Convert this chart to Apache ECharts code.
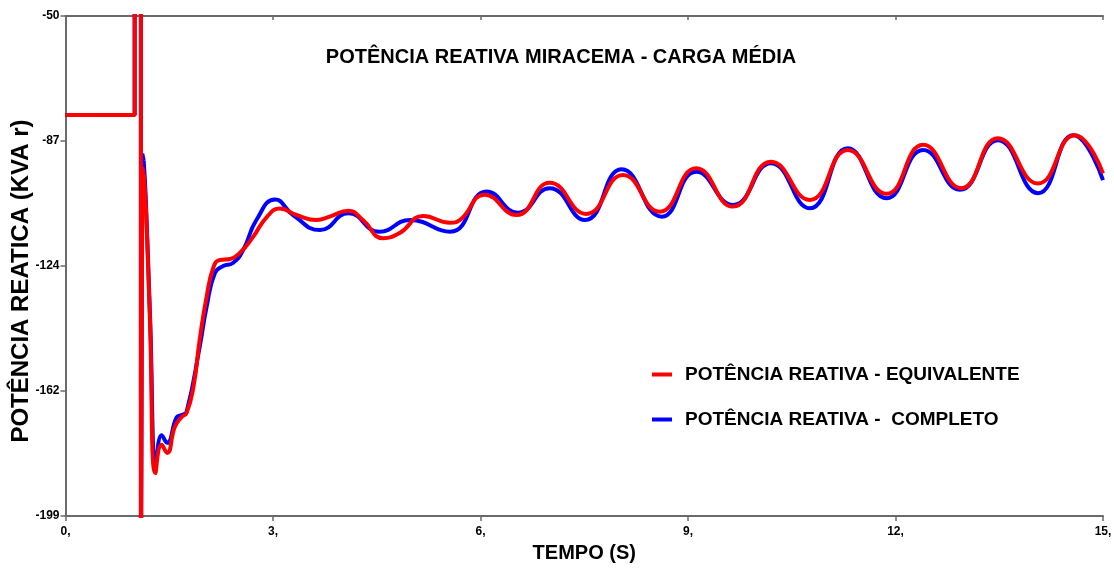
<!DOCTYPE html>
<html>
<head>
<meta charset="utf-8">
<script src="https://cdn.jsdelivr.net/npm/echarts@6/dist/echarts.min.js"></script>
<style>
html,body{margin:0;padding:0;background:#fff;}
#chart{width:1114px;height:570px;}
</style>
</head>
<body>
<div id="chart"></div>
<script>
const titleText = 'POTÊNCIA REATIVA MIRACEMA - CARGA MÉDIA';
const xName = 'TEMPO (S)';
const yName = 'POTÊNCIA REATICA (KVA r)';
const nameEquiv = 'POTÊNCIA REATIVA - EQUIVALENTE';
const nameComp = 'POTÊNCIA REATIVA -  COMPLETO';

// pre-fault / switching transient (straight segments)
const equivStep = [[0,-79.5],[1.0,-79.5],[1.0,-30],[1.09,-30],[1.09,-230],[1.11,-95],[1.13,-97]];
const compStep  = [[0,-79.5],[1.0,-79.5],[1.0,-30],[1.09,-30],[1.09,-230],[1.11,-91],[1.13,-93]];

// post-fault oscillation (smooth)
const equivWave = [[1.13,-97],[1.16,-106],[1.22,-140],[1.30,-186.2],[1.39,-177.8],[1.47,-180.2],[1.58,-172.5],[1.68,-169.5],[1.75,-168.3],[1.85,-160.5],[1.94,-146.5],[2.04,-133.7],[2.14,-124.8],[2.23,-122.7],[2.38,-122.4],[2.52,-120.6],[2.71,-115.9],[2.91,-109.9],[3.10,-107.4],[3.34,-109.3],[3.63,-110.8],[3.82,-109.8],[4.09,-108.0],[4.30,-110.8],[4.59,-116.2],[4.83,-114.7],[5.17,-109.6],[5.56,-111.6],[5.70,-110.8],[6.06,-103.3],[6.52,-109.3],[7.00,-99.7],[7.53,-109.0],[8.06,-97.4],[8.59,-108.3],[9.12,-95.4],[9.65,-106.8],[10.20,-93.4],[10.76,-104.8],[11.31,-89.9],[11.87,-103.0],[12.40,-88.4],[12.95,-101.3],[13.48,-86.4],[14.06,-99.9],[14.59,-85.5],[15.0,-96.9]];
const compWave = [[1.13,-93],[1.16,-104],[1.22,-138],[1.31,-182.9],[1.39,-174.9],[1.47,-177.2],[1.61,-169.5],[1.68,-168.9],[1.75,-168.0],[1.94,-148.6],[2.04,-136.7],[2.16,-126.6],[2.28,-124.5],[2.42,-123.6],[2.57,-119.7],[2.76,-110.8],[3.03,-104.7],[3.29,-109.3],[3.68,-113.8],[4.09,-108.8],[4.54,-114.3],[4.98,-110.8],[5.56,-114.3],[6.09,-102.3],[6.54,-108.6],[7.00,-101.3],[7.51,-110.8],[8.04,-95.7],[8.62,-109.8],[9.12,-96.4],[9.65,-106.3],[10.20,-93.9],[10.76,-107.3],[11.31,-89.4],[11.87,-104.3],[12.40,-89.9],[12.93,-101.8],[13.48,-87.0],[14.06,-102.8],[14.57,-85.5],[15.0,-98.9]];

const xMin = 0, xMax = 15, xStep = 3;
const yMin = -199, yMax = -50;

const font = "'Liberation Sans', Arial, sans-serif";
const axisCol = '#6a6a6a';
const chart = echarts.init(document.getElementById('chart'));
const lineSeries = (name, data, color, smooth) => ({
  name: name, type: 'line', data: data, smooth: smooth ? 0.5 : false,
  showSymbol: false, symbol: 'none', clip: true,
  lineStyle: {color: color, width: 4}, itemStyle: {color: color}
});
chart.setOption({
  animation: false,
  backgroundColor: '#fff',
  title: {
    text: titleText, left: 561, top: 47, textAlign: 'center', padding: 0,
    textStyle: {fontFamily: font, fontWeight: 'bold', fontSize: 20, color: '#000'}
  },
  legend: {
    data: [nameEquiv, nameComp], orient: 'vertical', left: 647, top: 360,
    icon: 'rect', itemWidth: 20, itemHeight: 4, itemGap: 26,
    textStyle: {fontFamily: font, fontWeight: 'bold', fontSize: 19, color: '#000', padding: [0,0,0,8]}
  },
  grid: {left: 65.5, right: 11, top: 16, bottom: 54, containLabel: false, outerBoundsMode: 'none'},
  xAxis: [{
    type: 'value', min: xMin, max: xMax, interval: xStep, position: 'bottom',
    name: xName, nameLocation: 'middle', nameGap: 27, nameMoveOverlap: false,
    nameTextStyle: {fontFamily: font, fontWeight: 'bold', fontSize: 20, color: '#000'},
    axisLine: {show: true, lineStyle: {color: axisCol, width: 2}},
    axisTick: {show: true, length: 5, lineStyle: {color: axisCol, width: 1.5}},
    axisLabel: {fontFamily: font, fontWeight: 'bold', fontSize: 12, color: '#000', margin: 10, formatter: v => v + ','},
    splitLine: {show: false}
  }, {
    type: 'value', min: xMin, max: xMax, interval: xStep, position: 'top',
    axisLine: {show: true, onZero: false, lineStyle: {color: axisCol, width: 2}},
    axisTick: {show: true, inside: true, length: 4, lineStyle: {color: axisCol, width: 1.5}},
    axisLabel: {show: false}, splitLine: {show: false}
  }],
  yAxis: {
    type: 'value', min: yMin, max: yMax, interval: (yMax - yMin) / 4,
    name: yName, nameLocation: 'middle', nameRotate: 90, nameGap: 32, nameMoveOverlap: false,
    nameTextStyle: {fontFamily: font, fontWeight: 'bold', fontSize: 24, color: '#000', padding: [0, 30, 0, 0]},
    axisLine: {show: true, onZero: false, lineStyle: {color: axisCol, width: 2}},
    axisTick: {show: true, length: 5, lineStyle: {color: axisCol, width: 1.5}},
    axisLabel: {fontFamily: font, fontWeight: 'bold', fontSize: 12, color: '#000', margin: 6, formatter: v => String(Math.round(v))},
    splitLine: {show: false}
  },
  series: [
    lineSeries(nameComp, compStep, '#0000ff', false),
    lineSeries(nameComp, compWave, '#0000ff', true),
    lineSeries(nameEquiv, equivStep, '#ff0000', false),
    lineSeries(nameEquiv, equivWave, '#ff0000', true)
  ]
});
</script>
</body>
</html>
